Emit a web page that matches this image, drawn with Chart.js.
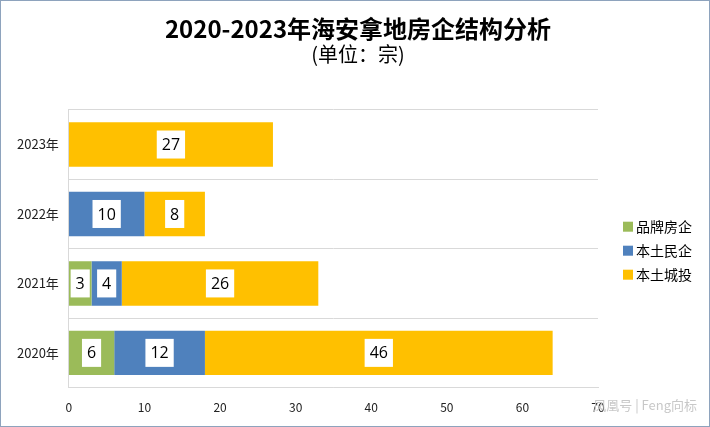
<!DOCTYPE html>
<html>
<head>
<meta charset="utf-8">
<script src="https://cdn.jsdelivr.net/npm/chart.js@4"></script>
<style>
body { margin: 0; background: #fff; }
#box { width: 710px; height: 427px; box-sizing: border-box; border: 1px solid #8ea3bd; position: relative; }
#mark { position: absolute; right: 12px; bottom: 12px; font: 13px "Noto Sans CJK SC"; color: #c8c8c8; }
</style>
</head>
<body>
<div id="box">
	<canvas id="myChart"></canvas>
	<div id="mark">凤凰号 | Feng向标</div>
</div>
<script>
const years = ['2023年', '2022年', '2021年', '2020年']
const brand = [0, 0, 3, 6]
const privateCo = [0, 10, 4, 12]
const cityInvest = [27, 8, 26, 46]
const xTicks = [0, 10, 20, 30, 40, 50, 60, 70]

const cjk = '"Noto Sans CJK SC", "Noto Sans", sans-serif'

// white boxes with the values, centred on each segment
const labelBoxes = {
	id: 'labelBoxes',
	afterDatasetsDraw(chart) {
		const ctx = chart.ctx
		ctx.save()
		ctx.font = '16px "Open Sans", "Noto Sans", sans-serif'
		ctx.textAlign = 'center'
		ctx.textBaseline = 'middle'
		chart.data.datasets.forEach((ds, i) => {
			chart.getDatasetMeta(i).data.forEach((bar, j) => {
				const v = ds.data[j]
				if (!v) return
				const c = bar.getCenterPoint()
				const w = ctx.measureText(String(v)).width + 10
				ctx.fillStyle = '#fff'
				ctx.fillRect(c.x - w / 2, c.y - 14, w, 28)
				ctx.fillStyle = '#000'
				ctx.fillText(String(v), c.x, c.y + 1)
			})
		})
		ctx.restore()
	}
}

// legend drawn by hand to sit where the original one sits
const sideLegend = {
	id: 'sideLegend',
	afterDraw(chart) {
		const ctx = chart.ctx
		const a = chart.chartArea
		const x = a.right + 25
		const y0 = (a.top + a.bottom) / 2 - 22
		ctx.save()
		ctx.font = '14px ' + cjk
		ctx.textBaseline = 'middle'
		chart.data.datasets.forEach((ds, i) => {
			const y = y0 + i * 24
			ctx.fillStyle = ds.backgroundColor
			ctx.fillRect(x, y - 5, 10, 10)
			ctx.fillStyle = '#000'
			ctx.fillText(ds.label, x + 13, y)
		})
		ctx.restore()
	}
}

const ctx = document.getElementById('myChart')
var chart = new Chart(ctx, {
	type: 'bar',
	data: {
		labels: years,
		datasets: [{
			label: '品牌房企',
			data: brand,
			backgroundColor: '#9bbb59',
		}, {
			label: '本土民企',
			data: privateCo,
			backgroundColor: '#4f81bd',
		}, {
			label: '本土城投',
			data: cityInvest,
			backgroundColor: '#ffc000',
		}]
	},
	options: {
		indexAxis: 'y',
		responsive: true,
		maintainAspectRatio: false,
		animation: false,
		layout: { padding: { left: 6, right: 0, top: 6, bottom: 6 } },
		datasets: { bar: { barPercentage: 0.64, categoryPercentage: 1 } },
		scales: {
			x: {
				stacked: true,
				min: 0,
				max: 70,
				afterBuildTicks: s => { s.ticks = xTicks.map(v => ({ value: v })) },
				grid: { display: false },
				border: { color: '#d9d9d9' },
				ticks: { color: '#222', font: { size: 12, family: cjk }, padding: 5 }
			},
			y: {
				stacked: true,
				grid: { color: '#d9d9d9', drawTicks: false },
				border: { color: '#d9d9d9' },
				ticks: { color: '#222', font: { size: 13, family: cjk }, padding: 10 }
			},
			// empty axis on the right keeps room for the legend
			side: {
				type: 'category',
				position: 'right',
				grid: { display: false },
				border: { display: false },
				ticks: { display: false },
				afterFit: s => { s.width = 111 }
			}
		},
		plugins: {
			title: {
				display: true,
				text: '2020-2023年海安拿地房企结构分析',
				color: '#000',
				font: { size: 24, weight: 'bold', family: cjk },
				padding: { top: 7, bottom: 0 }
			},
			subtitle: {
				display: true,
				text: '(单位：宗)',
				color: '#000',
				font: { size: 20, family: cjk },
				padding: { top: 0, bottom: 43 }
			},
			legend: { display: false },
			tooltip: { enabled: false }
		}
	},
	plugins: [labelBoxes, sideLegend]
})
</script>
</body>
</html>
